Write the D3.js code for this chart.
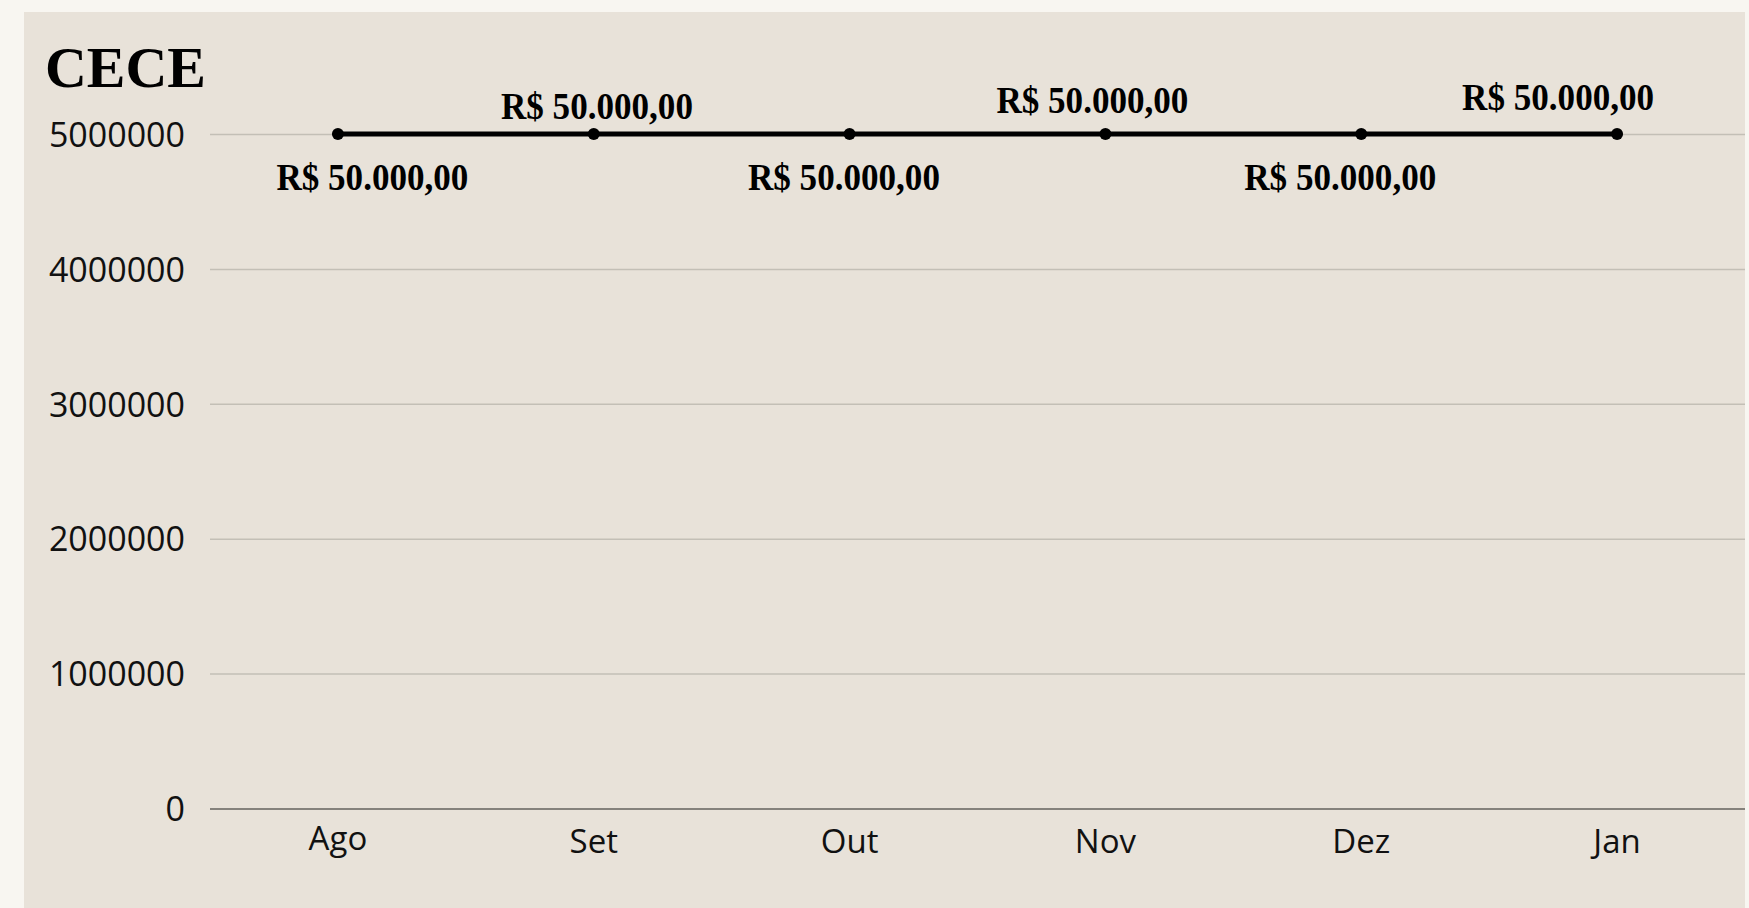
<!DOCTYPE html>
<html>
<head>
<meta charset="utf-8">
<script src="https://cdn.jsdelivr.net/npm/d3@7/dist/d3.min.js"></script>
<style>
  html, body { margin: 0; padding: 0; background: #f8f6f1; }
  svg { display: block; }
</style>
</head>
<body>
<svg id="chart" width="1749" height="908"></svg>
<script>
// ---- data ----
const months = ["Ago", "Set", "Out", "Nov", "Dez", "Jan"];
const values = [5000000, 5000000, 5000000, 5000000, 5000000, 5000000];
const yTicks = [0, 1000000, 2000000, 3000000, 4000000, 5000000];
const title = "CECE";

// ---- label placement (styling, not data) ----
const labelLayout = [
  { dx: 34.5, y: 190 },
  { dx: 3.2, y: 119 },
  { dx: -5.6, y: 190 },
  { dx: -13, y: 113.3 },
  { dx: -21, y: 190 },
  { dx: -59, y: 110 }
];

const W = 1749, H = 908;
const panel = { x: 24, y: 12, w: 1721, h: 896 };
const plot = { left: 210, right: 1745, top: 134, bottom: 808.5 };

const svg = d3.select("#chart");

svg.append("rect").attr("width", W).attr("height", H).attr("fill", "#f8f6f1");
svg.append("rect")
  .attr("x", panel.x).attr("y", panel.y)
  .attr("width", panel.w).attr("height", panel.h)
  .attr("fill", "#e8e2d9");

const x = d3.scaleBand().domain(months).range([plot.left, plot.right]).padding(0);
const y = d3.scaleLinear().domain([0, 5000000]).range([plot.bottom, plot.top]);
const cx = d => x(d) + x.bandwidth() / 2;

// y axis with gridlines
const yAxis = d3.axisLeft(y)
  .tickValues(yTicks)
  .tickSize(-(plot.right - plot.left))
  .tickPadding(25)
  .tickFormat(d3.format("d"));

const gy = svg.append("g")
  .attr("transform", `translate(${plot.left},0)`)
  .call(yAxis);
gy.select(".domain").remove();
gy.selectAll(".tick line")
  .attr("stroke", d => d === 0 ? "#85827c" : "#c3bfb6")
  .attr("stroke-width", d => d === 0 ? 2 : 1.5);
gy.selectAll(".tick text")
  .attr("font-family", "'Open Sans', sans-serif")
  .attr("font-size", 34)
  .attr("fill", "#111")
  .attr("dy", "0.36em");

// x axis labels
const xAxis = d3.axisBottom(x).tickSize(0).tickPadding(0);
const gx = svg.append("g")
  .attr("transform", `translate(0,${plot.bottom})`)
  .call(xAxis);
gx.select(".domain").remove();
gx.selectAll(".tick text")
  .attr("font-family", "'Open Sans', sans-serif")
  .attr("font-size", 33)
  .attr("fill", "#111")
  .attr("y", (d) => d === "Ago" ? 41.5 : 44.5)
  .attr("dy", 0);

// line
const data = months.map((m, i) => ({ m, v: values[i], i }));
const line = d3.line().x(d => cx(d.m)).y(d => y(d.v));
svg.append("path")
  .datum(data)
  .attr("d", line)
  .attr("fill", "none")
  .attr("stroke", "#000")
  .attr("stroke-width", 5);

svg.selectAll("circle.pt")
  .data(data)
  .join("circle")
  .attr("class", "pt")
  .attr("cx", d => cx(d.m))
  .attr("cy", d => y(d.v))
  .attr("r", 6)
  .attr("fill", "#000");

// data labels
const br = d3.formatLocale({
  decimal: ",", thousands: ".", grouping: [3], currency: ["R$ ", ""]
});
const fmt = br.format("$,.2f");

svg.selectAll("text.lbl")
  .data(data)
  .join("text")
  .attr("class", "lbl")
  .attr("x", d => cx(d.m) + labelLayout[d.i].dx)
  .attr("y", d => labelLayout[d.i].y)
  .attr("text-anchor", "middle")
  .attr("font-family", "'Liberation Serif', 'Times New Roman', serif")
  .attr("font-weight", "bold")
  .attr("font-size", 37)
  .attr("textLength", 192)
  .attr("lengthAdjust", "spacingAndGlyphs")
  .attr("fill", "#000")
  .text(d => fmt(d.v / 100));

// title
svg.append("text")
  .attr("x", 45)
  .attr("y", 87)
  .attr("font-family", "'Liberation Serif', 'Times New Roman', serif")
  .attr("font-weight", "bold")
  .attr("font-size", 57)
  .attr("textLength", 161)
  .attr("lengthAdjust", "spacingAndGlyphs")
  .attr("fill", "#000")
  .text(title);
</script>
</body>
</html>
